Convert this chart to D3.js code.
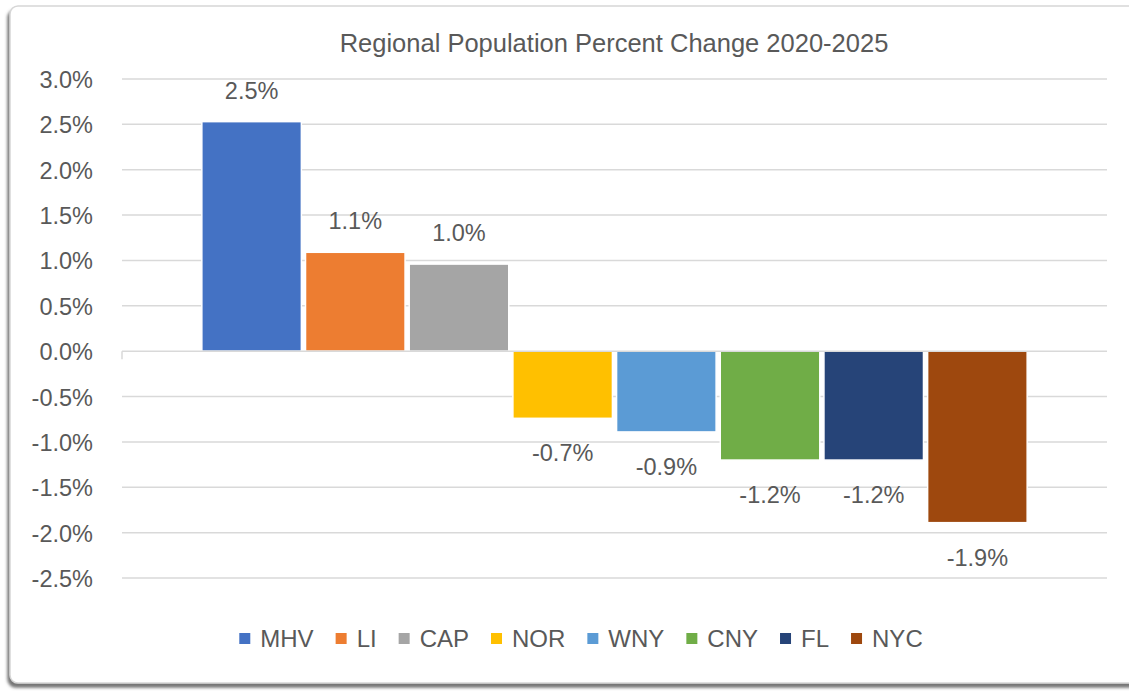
<!DOCTYPE html>
<html>
<head>
<meta charset="utf-8">
<script src="https://cdn.jsdelivr.net/npm/d3@7"></script>
<style>
  html, body { margin: 0; padding: 0; background: #ffffff; }
  svg { display: block; }
  text { font-family: "Liberation Sans", Arial, sans-serif; fill: #595959; }
</style>
</head>
<body>
<svg id="chart" width="1129" height="691"></svg>
<script>
  const regions = ["MHV", "LI", "CAP", "NOR", "WNY", "CNY", "FL", "NYC"];
  const changes = [0.0253, 0.0109, 0.0096, -0.0074, -0.0089, -0.0120, -0.0120, -0.0189];
  const colors = ["#4472C4", "#ED7D31", "#A5A5A5", "#FFC000", "#5B9BD5", "#70AD47", "#264478", "#9E480E"];
  const yTicks = [0.03, 0.025, 0.02, 0.015, 0.01, 0.005, 0, -0.005, -0.01, -0.015, -0.02, -0.025];
  const title = "Regional Population Percent Change 2020-2025";

  const plot = { left: 122, right: 1107, top: 79, bottom: 578 };
  const locale = d3.formatLocale({ decimal: ".", thousands: ",", grouping: [3], currency: ["$", ""], minus: "-" });
  const fmt = locale.format(".1%");

  const svg = d3.select("#chart");

  // card with shadow
  const defs = svg.append("defs");
  const filter = defs.append("filter").attr("id", "shadow")
    .attr("x", "-5%").attr("y", "-5%").attr("width", "110%").attr("height", "115%");
  filter.append("feDropShadow")
    .attr("dx", -2).attr("dy", 4).attr("stdDeviation", 1.5)
    .attr("flood-color", "#6e6e6e").attr("flood-opacity", 0.95);

  svg.append("rect")
    .attr("x", 10).attr("y", 6)
    .attr("width", 1150).attr("height", 677)
    .attr("rx", 8)
    .attr("fill", "#ffffff")
    .attr("stroke", "#d6d6d6")
    .attr("stroke-width", 1.5)
    .attr("filter", "url(#shadow)");

  const y = d3.scaleLinear().domain([-0.025, 0.03]).range([plot.bottom, plot.top]);
  const x = d3.scaleBand()
    .domain(regions)
    .range([plot.left, plot.right])
    .paddingInner(0.04)
    .paddingOuter(0.77);

  // gridlines
  svg.append("g")
    .selectAll("line")
    .data(yTicks.filter((t) => t !== 0))
    .join("line")
    .attr("x1", plot.left).attr("x2", plot.right)
    .attr("y1", (d) => y(d)).attr("y2", (d) => y(d))
    .attr("stroke", "#d9d9d9")
    .attr("stroke-width", 1.5);

  // y axis labels
  const yAxis = d3.axisLeft(y).tickValues(yTicks).tickFormat(fmt).tickSize(0).tickPadding(0);
  const yg = svg.append("g").attr("transform", "translate(93,0)").call(yAxis);
  yg.select(".domain").remove();
  yg.selectAll("text")
    .attr("font-family", null)
    .attr("font-size", 23.5)
    .attr("fill", "#595959")
    .attr("dy", "0.36em");

  // bars
  svg.append("g")
    .selectAll("rect")
    .data(regions)
    .join("rect")
    .attr("x", (d) => x(d))
    .attr("width", x.bandwidth())
    .attr("y", (d, i) => y(Math.max(0, changes[i])))
    .attr("height", (d, i) => Math.abs(y(changes[i]) - y(0)))
    .attr("fill", (d, i) => colors[i])
    .attr("stroke", "#ffffff")
    .attr("stroke-width", 1.5);

  // zero axis with small tick at left end
  svg.append("line")
    .attr("x1", plot.left).attr("x2", plot.right)
    .attr("y1", y(0)).attr("y2", y(0))
    .attr("stroke", "#d9d9d9").attr("stroke-width", 1.5);
  svg.append("line")
    .attr("x1", plot.left).attr("x2", plot.left)
    .attr("y1", y(0)).attr("y2", y(0) + 8)
    .attr("stroke", "#d9d9d9").attr("stroke-width", 1.5);

  // data labels
  svg.append("g")
    .selectAll("text")
    .data(regions)
    .join("text")
    .attr("x", (d) => x(d) + x.bandwidth() / 2)
    .attr("y", (d, i) => (changes[i] >= 0 ? y(changes[i]) - 23 : y(changes[i]) + 43))
    .attr("text-anchor", "middle")
    .attr("font-size", 23.5)
    .text((d, i) => fmt(changes[i]));

  // title
  svg.append("text")
    .attr("x", 614)
    .attr("y", 52)
    .attr("text-anchor", "middle")
    .attr("font-size", 25.5)
    .text(title);

  // legend
  const legend = svg.append("g");
  let cursor = 0;
  const itemGap = 22;
  regions.forEach((name, i) => {
    const item = legend.append("g").attr("transform", `translate(${cursor},0)`);
    item.append("rect")
      .attr("x", 0).attr("y", -11)
      .attr("width", 11).attr("height", 11)
      .attr("fill", colors[i]);
    const t = item.append("text")
      .attr("x", 21).attr("y", 3)
      .attr("font-size", 24)
      .text(name);
    cursor += 21 + t.node().getComputedTextLength() + itemGap;
  });
  cursor -= itemGap;
  legend.attr("transform", `translate(${581 - cursor / 2},644)`);
</script>
</body>
</html>
